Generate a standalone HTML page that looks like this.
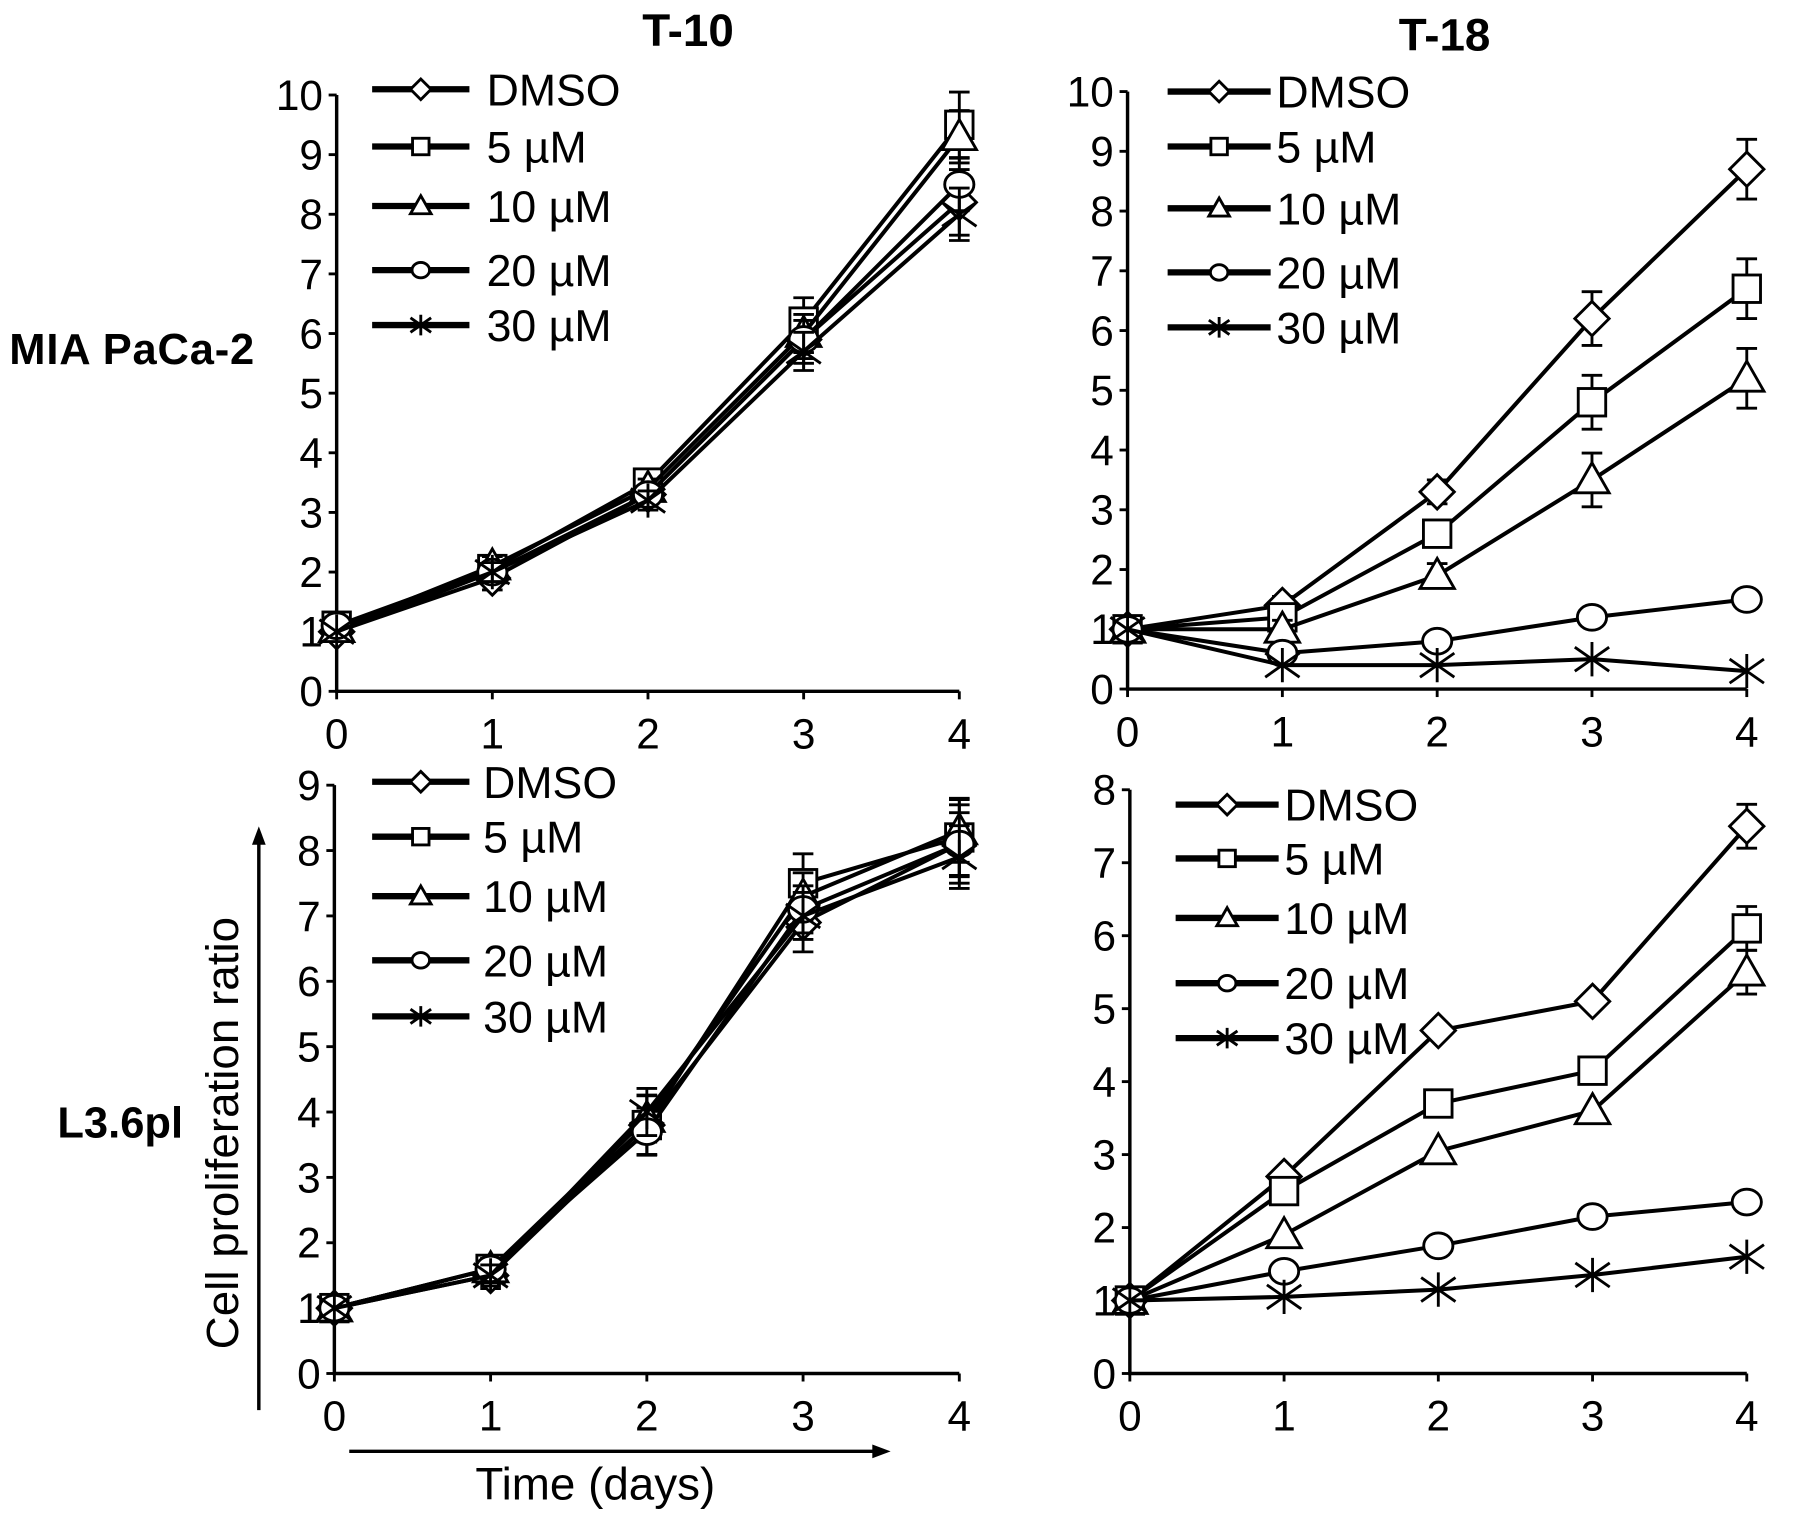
<!DOCTYPE html>
<html><head><meta charset="utf-8"><style>
html,body{margin:0;padding:0;background:#fff}
svg{display:block}
text{font-family:"Liberation Sans",Arial,sans-serif;fill:#000}
</style></head><body>
<svg id="fig" width="1795" height="1520" viewBox="0 0 1568 1328" xmlns="http://www.w3.org/2000/svg">
<text x="601" y="40" font-size="40" font-weight="bold" text-anchor="middle">T-10</text>
<text x="1262" y="44" font-size="40" font-weight="bold" text-anchor="middle">T-18</text>
<text x="8" y="318" font-size="38" font-weight="bold" textLength="214">MIA PaCa-2</text>
<text x="50" y="994" font-size="38" font-weight="bold">L3.6pl</text>
<text transform="translate(208,990) rotate(-90)" font-size="40" text-anchor="middle">Cell proliferation ratio</text>
<line x1="226" y1="1232" x2="226" y2="735" stroke="#000" stroke-width="3"/>
<polygon points="226,722 220,738 232,738" fill="#000"/>
<text x="520" y="1310" font-size="40" text-anchor="middle">Time (days)</text>
<line x1="305" y1="1268" x2="765" y2="1268" stroke="#000" stroke-width="3"/>
<polygon points="778,1268 762,1262 762,1274" fill="#000"/>
<g id="plots"></g>
</svg>
<script>
const days = [0,1,2,3,4];
const seriesNames = ["DMSO","5 µM","10 µM","20 µM","30 µM"];
const tlDMSO=[1,1.9,3.3,5.9,8.2], tl5=[1.1,2.05,3.5,6.2,9.5], tl10=[1.05,2.1,3.4,6.0,9.3], tl20=[1.1,2.0,3.3,5.9,8.5], tl30=[1.0,2.0,3.2,5.7,8.0];
const tlErr=[0.15,0.2,0.2,0.4,0.55];
const trDMSO=[1,1.4,3.3,6.2,8.7], tr5=[1,1.2,2.6,4.8,6.7], tr10=[1,1.0,1.9,3.5,5.2], tr20=[1,0.6,0.8,1.2,1.5], tr30=[1,0.4,0.4,0.5,0.3];
const trErr=[0.1,0.15,0.2,0.45,0.5];
const blDMSO=[1,1.5,3.8,6.9,8.1], bl5=[1,1.6,3.8,7.5,8.2], bl10=[1,1.6,3.9,7.3,8.3], bl20=[1,1.6,3.7,7.1,8.1], bl30=[1,1.5,4.0,7.0,7.9];
const blErr=[0.15,0.2,0.45,0.45,0.6];
const brDMSO=[1,2.7,4.7,5.1,7.5], br5=[1,2.5,3.7,4.15,6.1], br10=[1,1.9,3.05,3.6,5.5], br20=[1,1.4,1.75,2.15,2.35], br30=[1,1.05,1.15,1.35,1.6];
const brErr=[0.05,0.1,0.1,0.1,0.3];
const yTicksTop=[0,1,2,3,4,5,6,7,8,9,10], yTicksBL=[0,1,2,3,4,5,6,7,8,9], yTicksBR=[0,1,2,3,4,5,6,7,8];
const markers=["diamond","square","triangle","circle","star"];

const NS="http://www.w3.org/2000/svg";
const root=document.getElementById('plots');
function mk(tag,attrs,parent){const e=document.createElementNS(NS,tag);for(const k in attrs)e.setAttribute(k,attrs[k]);(parent||root).appendChild(e);return e;}
function marker(g,type,x,y,s){
  let e;
  if(type==="diamond") e=mk('polygon',{points:`${x},${y-s} ${x+s},${y} ${x},${y+s} ${x-s},${y}`,fill:'#fff',stroke:'#000','stroke-width':2.5},g);
  else if(type==="square") e=mk('rect',{x:x-s*0.8,y:y-s*0.8,width:s*1.6,height:s*1.6,fill:'#fff',stroke:'#000','stroke-width':2.5},g);
  else if(type==="triangle") e=mk('polygon',{points:`${x},${y-s} ${x+s},${y+s*0.75} ${x-s},${y+s*0.75}`,fill:'#fff',stroke:'#000','stroke-width':2.5},g);
  else if(type==="circle") e=mk('ellipse',{cx:x,cy:y,rx:s*0.85,ry:s*0.75,fill:'#fff',stroke:'#000','stroke-width':2.5},g);
  else { e=mk('path',{d:`M${x-s} ${y-s*0.7}L${x+s} ${y+s*0.7}M${x-s} ${y+s*0.7}L${x+s} ${y-s*0.7}M${x} ${y-s}L${x} ${y+s}`,stroke:'#000','stroke-width':2.5,fill:'none'},g); }
  
  
}
function panel(name,x0,x1,yb,yt,ymax,yTicks,series,err,errScale,leg){
  const g=mk('g',{});
  
  
  const X=d=>x0+(x1-x0)*d/4, Y=v=>yb-(yb-yt)*v/ymax;
  const ax=mk('path',{d:`M${x0} ${Y(ymax)}L${x0} ${yb}L${x1} ${yb}`,stroke:'#000','stroke-width':3,fill:'none'},g);
  
  
  yTicks.forEach(t=>{
    mk('line',{x1:x0-7,x2:x0,y1:Y(t),y2:Y(t),stroke:'#000','stroke-width':2.5},g);
    const tx=mk('text',{x:x0-12,y:Y(t)+13,'font-size':37,'text-anchor':'end'},g);
    tx.textContent=t;
    
    
  });
  days.forEach(d=>{
    mk('line',{x1:X(d),x2:X(d),y1:yb,y2:yb+7,stroke:'#000','stroke-width':2.5},g);
    const tx=mk('text',{x:X(d),y:yb+50,'font-size':37,'text-anchor':'middle'},g);
    tx.textContent=d;
    
    
  });
  series.forEach((vals,i)=>{
    const sg=mk('g',{},g);
    
    
    const pl=mk('polyline',{points:vals.map((v,j)=>X(days[j])+','+Y(v)).join(' '),fill:'none',stroke:'#000','stroke-width':3.5},sg);
    
    
    vals.forEach((v,j)=>{
      const e=err[j]*errScale[i];
      if(e>0.12){
        const x=X(days[j]);
        mk('path',{d:`M${x} ${Y(v-e)}L${x} ${Y(v+e)}M${x-9} ${Y(v-e)}L${x+9} ${Y(v-e)}M${x-9} ${Y(v+e)}L${x+9} ${Y(v+e)}`,stroke:'#000','stroke-width':2.5,fill:'none'},sg);
      }
      marker(sg,markers[i],X(days[j]),Y(v),15);
    });
  });
  leg.rows.forEach((ry,i)=>{
    const lg=mk('g',{},g);
    
    
    mk('line',{x1:leg.l1,x2:leg.l2,y1:ry,y2:ry,stroke:'#000','stroke-width':5.5},lg);
    marker(lg,markers[i],(leg.l1+leg.l2)/2,ry,9);
    const tx=mk('text',{x:leg.tx,y:ry+14,'font-size':39},lg);
    tx.textContent=seriesNames[i];
  });
}
panel('panel-t10-mia',294,838,604,83,10,yTicksTop,[tlDMSO,tl5,tl10,tl20,tl30],tlErr,[1,1,0.8,0.8,0.8],{l1:325,l2:410,tx:425,rows:[78,128,180,236,284]});
panel('panel-t18-mia',985,1526,602,80,10,yTicksTop,[trDMSO,tr5,tr10,tr20,tr30],trErr,[1,1,1,0,0],{l1:1020,l2:1110,tx:1115,rows:[80,128,182,238,286]});
panel('panel-t10-l36pl',292,838,1200,686,9,yTicksBL,[blDMSO,bl5,bl10,bl20,bl30],blErr,[1,1,0.8,0.8,0.8],{l1:325,l2:410,tx:422,rows:[683,731,783,839,888]});
panel('panel-t18-l36pl',987,1526,1200,690,8,yTicksBR,[brDMSO,br5,br10,br20,br30],brErr,[1,1,1,0,0],{l1:1027,l2:1117,tx:1122,rows:[703,750,802,859,907]});
</script>
</body></html>
